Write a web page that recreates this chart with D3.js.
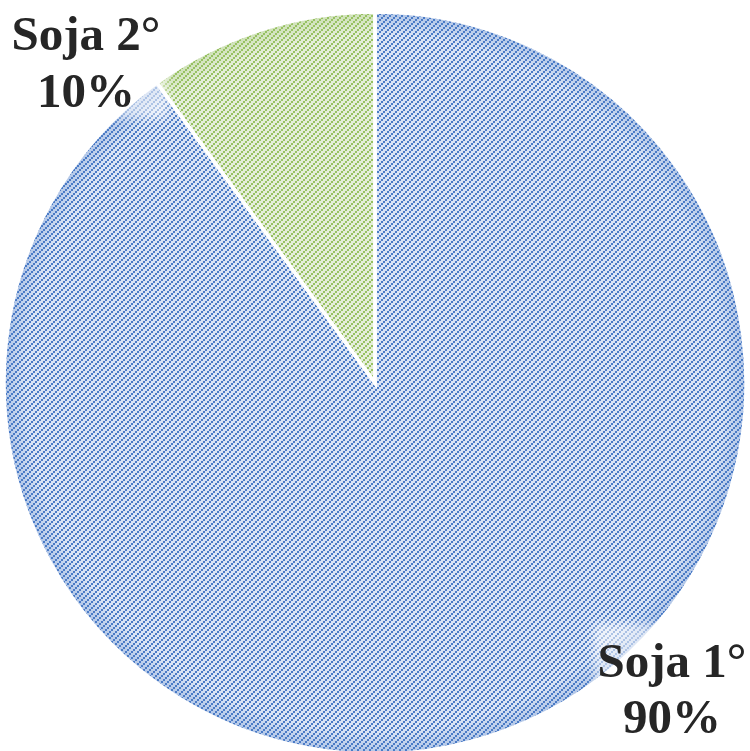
<!DOCTYPE html>
<html><head><meta charset="utf-8">
<script src="https://cdn.jsdelivr.net/npm/d3@7"></script>
<style>html,body{margin:0;padding:0;background:#fff;}svg{display:block;}</style>
</head><body>
<script>
const categories = ["Soja 1°", "Soja 2°"];
const values = [90, 10];
const percentLabels = ["90%", "10%"];

const W = 750, H = 751;
const cx = 375, cy = 383, R = 371;
const fg = ["#4a7bc6", "#97c162"];
const bg = ["#dbe4f4", "#e5eeda"];

const svg = d3.select("body").append("svg").attr("width", W).attr("height", H);
const defs = svg.append("defs");

categories.forEach((c, i) => {
  const p = defs.append("pattern").attr("id", "pat" + i)
    .attr("patternUnits", "userSpaceOnUse").attr("width", 6).attr("height", 6);
  p.append("rect").attr("width", 6).attr("height", 6).attr("fill", bg[i]);
  for (let bx = 0; bx < 3; bx++) for (let by = 0; by < 3; by++) {
    if ((bx + by) % 3 === 0) p.append("rect").attr("x", bx * 2).attr("y", by * 2).attr("width", 2).attr("height", 2)
      .attr("fill", fg[i]).attr("shape-rendering", "crispEdges");
  }
  const g = defs.append("radialGradient").attr("id", "rim" + i)
    .attr("gradientUnits", "userSpaceOnUse").attr("cx", 0).attr("cy", 0).attr("r", R);
  g.append("stop").attr("offset", "0.94").attr("stop-color", fg[i]).attr("stop-opacity", 0);
  g.append("stop").attr("offset", "1").attr("stop-color", fg[i]).attr("stop-opacity", 0.3);
});
const blur = defs.append("filter").attr("id", "blur").attr("x", "-20%").attr("y", "-20%").attr("width", "140%").attr("height", "140%");
blur.append("feGaussianBlur").attr("stdDeviation", 5);

const pie = d3.pie().sort(null).value(d => d)(values);
const arc = d3.arc().innerRadius(0).outerRadius(R);

const g = svg.append("g").attr("transform", `translate(${cx},${cy})`);
const slices = g.selectAll("g.slice").data(pie).join("g").attr("class", "slice");
slices.append("path").attr("d", arc).attr("fill", (d, i) => `url(#pat${i})`)
  .attr("transform", null);
slices.append("path").attr("d", arc).attr("fill", (d, i) => `url(#rim${i})`);
g.selectAll("path.border").data(pie).join("path").attr("class", "border")
  .attr("d", arc).attr("fill", "none").attr("stroke", "#fff").attr("stroke-width", 3.5)
  .attr("stroke-linejoin", "miter");

const labelPos = [
  { x: 672, y1: 677, y2: 733, box: [594, 624, 156, 100] },
  { x: 86, y1: 50, y2: 107, box: [10, 10, 158, 108] }
];
labelPos.forEach((lp) => {
  svg.append("rect").attr("x", lp.box[0]).attr("y", lp.box[1]).attr("width", lp.box[2]).attr("height", lp.box[3])
    .attr("fill", "#fff").attr("opacity", 0.55).attr("filter", "url(#blur)");
});
labelPos.forEach((lp, i) => {
  const t = svg.append("text").attr("text-anchor", "middle")
    .attr("font-family", "'Liberation Serif', 'DejaVu Serif', serif").attr("font-weight", "bold")
    .attr("font-size", 49).attr("fill", "#262626");
  t.append("tspan").attr("x", lp.x).attr("y", lp.y1).text(categories[i]);
  t.append("tspan").attr("x", lp.x).attr("y", lp.y2).text(percentLabels[i]);
});
</script>
</body></html>
